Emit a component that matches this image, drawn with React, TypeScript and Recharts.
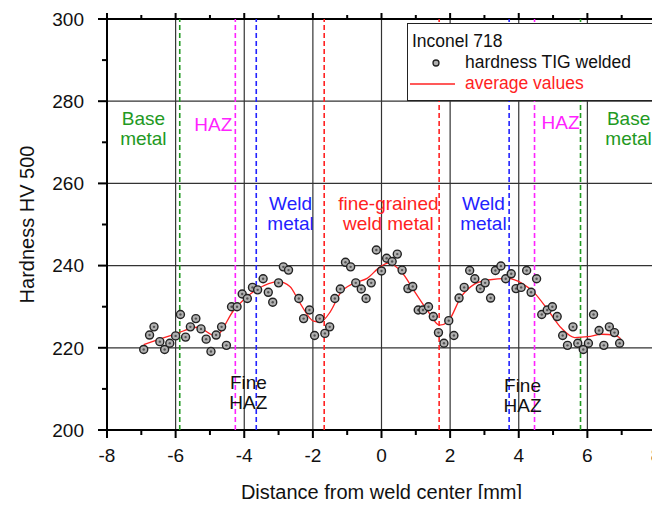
import React from "react";
import {
  ComposedChart,
  Scatter,
  Line,
  XAxis,
  YAxis,
  CartesianGrid,
  ReferenceLine,
  ReferenceDot,
  Legend,
} from "recharts";

// measured hardness, left half then right half of the weld
const measuredX = [
  -6.93, -6.76, -6.63, -6.46, -6.32, -6.17, -6.0, -5.86, -5.71, -5.57, -5.41, -5.26, -5.11, -4.97,
  -4.82, -4.66, -4.52, -4.37, -4.21, -4.06, -3.91, -3.76, -3.61, -3.45, -3.3, -3.17, -3.0, -2.86,
  -2.71, -2.41, -2.27, -2.1, -1.95, -1.8, -1.65, -1.51, -1.36, -1.2, -1.05, -0.9, -0.75, -0.59,
  -0.45, -0.3, -0.15,
  0.0, 0.15, 0.31, 0.46, 0.6, 0.77, 0.91, 1.07, 1.21, 1.37, 1.51, 1.66, 1.82, 1.96, 2.11, 2.26,
  2.41, 2.57, 2.72, 2.88, 3.02, 3.18, 3.32, 3.48, 3.62, 3.78, 3.92, 4.07, 4.23, 4.36, 4.52, 4.67,
  4.83, 4.98, 5.12, 5.28, 5.42, 5.58, 5.72, 5.88, 6.03, 6.18, 6.34, 6.48, 6.64, 6.79, 6.94,
];
const measuredHV = [
  219.6, 223.1, 225.1, 221.5, 219.6, 221.1, 222.9, 228.1, 222.6, 225.1, 227.1, 224.6, 222.1, 219.1,
  223.1, 225.1, 220.6, 230.0, 230.0, 233.1, 232.0, 234.7, 234.1, 236.8, 233.5, 231.1, 235.8, 239.7,
  238.9, 232.0, 227.1, 229.2, 223.0, 227.1, 223.5, 225.1, 232.0, 234.3, 240.8, 239.7, 235.8, 234.3,
  232.0, 235.8, 243.8,
  238.7, 241.8, 241.0, 242.8, 238.9, 234.4, 234.9, 229.2, 229.2, 230.0, 227.6, 223.7, 221.1, 226.6,
  223.0, 232.1, 234.7, 238.8, 236.8, 234.4, 235.8, 232.1, 238.8, 239.9, 236.8, 238.0, 234.4, 234.7,
  238.8, 233.5, 236.8, 228.1, 229.2, 230.0, 227.6, 223.0, 220.6, 225.1, 221.1, 219.6, 221.1, 228.1,
  224.2, 220.6, 225.1, 223.7, 221.1,
];

// smoothed average curve
const averageX = [
  -6.93, -6.0, -5.37, -4.84, -4.3, -3.63, -3.0, -2.67, -2.37, -1.98, -1.78, -1.49, -1.2, -0.81,
  -0.42, -0.04, 0.19, 0.58, 0.97, 1.36, 1.69, 1.93, 2.32, 2.71, 3.1, 3.68, 4.07, 4.46, 4.85, 5.24,
  5.63, 6.02, 6.41, 6.8, 6.97,
];
const averageHV = [
  220.8, 223.4, 225.0, 222.9, 229.2, 234.2, 236.1, 234.9, 230.8, 226.5, 226.3, 228.8, 233.3, 235.7,
  236.9, 239.7, 240.6, 238.5, 233.6, 228.8, 225.5, 226.3, 232.4, 235.5, 236.5, 236.9, 235.8, 233.3,
  229.2, 224.8, 222.5, 222.7, 223.3, 223.1, 222.2,
];

const xMajor = [-8, -6, -4, -2, 0, 2, 4, 6, 8];
const xMinor = [-7, -5, -3, -1, 1, 3, 5, 7];
const yMajor = [200, 220, 240, 260, 280, 300];
const yMinor = [210, 230, 250, 270, 290];
const xGrid = [-6, -4, -2, 0, 2, 4, 6];
const yGrid = [220, 240, 260, 280];
const xEdges = [-8, 8];
const yEdges = [200, 300];

const zoneBounds = [
  { x: -5.88, color: "#229922" },
  { x: -4.26, color: "#ff22ff" },
  { x: -3.65, color: "#2222ff" },
  { x: -1.67, color: "#ff2222" },
  { x: 1.68, color: "#ff2222" },
  { x: 3.72, color: "#2222ff" },
  { x: 4.46, color: "#ff22ff" },
  { x: 5.8, color: "#229922" },
];

const zoneLabels = [
  { x: -6.94, y: 275.9, lines: ["Base", "metal"], color: "#229922" },
  { x: -4.9, y: 274.5, lines: ["HAZ"], color: "#ff22ff" },
  { x: -2.65, y: 255.2, lines: ["Weld", "metal"], color: "#2222ff" },
  { x: 0.2, y: 255.2, lines: ["fine-grained", "weld metal"], color: "#ff2222" },
  { x: 2.97, y: 255.2, lines: ["Weld", "metal"], color: "#2222ff" },
  { x: 5.22, y: 274.9, lines: ["HAZ"], color: "#ff22ff" },
  { x: 7.2, y: 275.9, lines: ["Base", "metal"], color: "#229922" },
  { x: -3.88, y: 211.7, lines: ["Fine", "HAZ"], color: "#111" },
  { x: 4.11, y: 210.9, lines: ["Fine", "HAZ"], color: "#111" },
];

const measured = measuredX.map((x, i) => ({ x, y: measuredHV[i] }));
const average = averageX.map((x, i) => ({ x, y: averageHV[i] }));

const FONT = "'Liberation Sans', Arial, Helvetica, sans-serif";
const tickFont = { fontSize: 19, fontFamily: FONT, fill: "#111" };

const Marker = (p: any) => (
  <g>
    <circle cx={p.cx} cy={p.cy} r={4} fill="#b0b0b0" stroke="#222" strokeWidth={1.4} />
    <circle cx={p.cx} cy={p.cy} r={1.2} fill="#555" />
  </g>
);

// tick marks outside the frame (bottom/top, left/right)
const xMark = (down: number, up: number) => (p: any) => {
  const bottom = Math.max(p.y1, p.y2);
  const top = Math.min(p.y1, p.y2);
  return (
    <g>
      <line x1={p.x1} x2={p.x1} y1={bottom} y2={bottom + down} stroke="#000" strokeWidth={2} />
      <line x1={p.x1} x2={p.x1} y1={top - up} y2={top} stroke="#000" strokeWidth={2} />
    </g>
  );
};
const yMark = (left: number, right: number) => (p: any) => {
  const l = Math.min(p.x1, p.x2);
  const r = Math.max(p.x1, p.x2);
  return (
    <g>
      <line x1={l - left} x2={l} y1={p.y1} y2={p.y1} stroke="#000" strokeWidth={2} />
      <line x1={r} x2={r + right} y1={p.y1} y2={p.y1} stroke="#000" strokeWidth={2} />
    </g>
  );
};

const LegendBox = () => (
  <div
    style={{
      width: 252,
      height: 78,
      boxSizing: "border-box",
      border: "1.5px solid #222",
      background: "#fff",
      fontFamily: FONT,
      fontSize: 17.5,
      lineHeight: "21px",
      padding: "7px 0 0 4px",
      color: "#111",
    }}
  >
    <div>Inconel 718</div>
    <div style={{ display: "flex", alignItems: "center" }}>
      <svg width={49} height={21}>
        <circle cx={24} cy={11} r={3} fill="#b0b0b0" stroke="#222" strokeWidth={1.3} />
      </svg>
      <span style={{ marginLeft: 4 }}>hardness TIG welded</span>
    </div>
    <div style={{ display: "flex", alignItems: "center", color: "#ff2222" }}>
      <svg width={49} height={21} style={{ marginLeft: -3 }}>
        <line x1={1} x2={46} y1={11} y2={11} stroke="#ff2222" strokeWidth={1.3} />
      </svg>
      <span style={{ marginLeft: 7 }}>average values</span>
    </div>
  </div>
);

export default function App() {
  return (
    <div style={{ margin: -8, width: 660, height: 507, background: "#fff" }}>
      <ComposedChart width={660} height={507} margin={{ top: 19, right: 4, bottom: 0, left: 0 }}>
        <CartesianGrid
          xAxisId="b"
          yAxisId="l"
          verticalValues={xGrid}
          horizontalValues={yGrid}
          stroke="#333"
          strokeWidth={1.2}
        />
        <XAxis
          xAxisId="b"
          dataKey="x"
          type="number"
          domain={[-8, 8]}
          ticks={xMajor}
          interval={0}
          height={77}
          tickSize={8}
          tickMargin={11}
          tick={tickFont}
          axisLine={false}
          tickLine={false}
          label={{
            value: "Distance from weld center [mm]",
            position: "insideBottom",
            offset: 8,
            fontSize: 20,
            fontFamily: FONT,
            fill: "#111",
          }}
        />
        <YAxis
          yAxisId="l"
          type="number"
          domain={[200, 300]}
          ticks={yMajor}
          interval={0}
          width={107}
          tickSize={9}
          tickMargin={14}
          tick={tickFont}
          axisLine={false}
          tickLine={false}
          label={{
            content: (lp: any) => {
              const vb = lp.viewBox;
              const cx = vb.x + 27;
              const cy = vb.y + vb.height / 2;
              return (
                <text
                  x={cx}
                  y={cy}
                  transform={`rotate(-90 ${cx} ${cy})`}
                  textAnchor="middle"
                  dominantBaseline="central"
                  fontSize={20}
                  fontFamily={FONT}
                  fill="#111"
                >
                  Hardness HV 500
                </text>
              );
            },
          }}
        />
        {/* plot frame */}
        {xEdges.map((v) => (
          <ReferenceLine key={"xe" + v} xAxisId="b" yAxisId="l" x={v} stroke="#000" strokeWidth={2} ifOverflow="visible" />
        ))}
        {yEdges.map((v) => (
          <ReferenceLine key={"ye" + v} xAxisId="b" yAxisId="l" y={v} stroke="#000" strokeWidth={2} ifOverflow="visible" />
        ))}
        {/* tick marks */}
        {xMajor.map((v) => (
          <ReferenceLine key={"xM" + v} xAxisId="b" yAxisId="l" x={v} ifOverflow="visible" shape={xMark(8, 6)} />
        ))}
        {xMinor.map((v) => (
          <ReferenceLine key={"xm" + v} xAxisId="b" yAxisId="l" x={v} ifOverflow="visible" shape={xMark(5, 4)} />
        ))}
        {yMajor.map((v) => (
          <ReferenceLine key={"yM" + v} xAxisId="b" yAxisId="l" y={v} ifOverflow="visible" shape={yMark(9, 5)} />
        ))}
        {yMinor.map((v) => (
          <ReferenceLine key={"ym" + v} xAxisId="b" yAxisId="l" y={v} ifOverflow="visible" shape={yMark(5, 4)} />
        ))}
        {zoneBounds.map((z, i) => (
          <ReferenceLine
            key={i}
            xAxisId="b"
            yAxisId="l"
            x={z.x}
            stroke={z.color}
            strokeWidth={1.6}
            strokeDasharray="5 3"
          />
        ))}
        {zoneLabels.map((l, i) => (
          <ReferenceDot
            key={"l" + i}
            xAxisId="b"
            yAxisId="l"
            x={l.x}
            y={l.y}
            r={0}
            shape={(p: any) => (
              <text
                x={p.cx}
                y={p.cy}
                textAnchor="middle"
                fontSize={19}
                fontFamily={FONT}
                fill={l.color}
                dominantBaseline="central"
              >
                {l.lines.map((t, j) => (
                  <tspan key={j} x={p.cx} dy={j === 0 ? 0 : 20}>
                    {t}
                  </tspan>
                ))}
              </text>
            )}
          />
        ))}
        <Scatter
          xAxisId="b"
          yAxisId="l"
          data={measured}
          dataKey="y"
          name="hardness TIG welded"
          shape={<Marker />}
          isAnimationActive={false}
        />
        <Line
          xAxisId="b"
          yAxisId="l"
          data={average}
          dataKey="y"
          type="monotone"
          stroke="#ff2222"
          strokeWidth={1.3}
          dot={false}
          name="average values"
          isAnimationActive={false}
        />
        <Legend
          layout="vertical"
          align="center"
          verticalAlign="middle"
          content={<LegendBox />}
          wrapperStyle={{ left: 407, top: 23, width: 252, height: 78 }}
        />
      </ComposedChart>
    </div>
  );
}
